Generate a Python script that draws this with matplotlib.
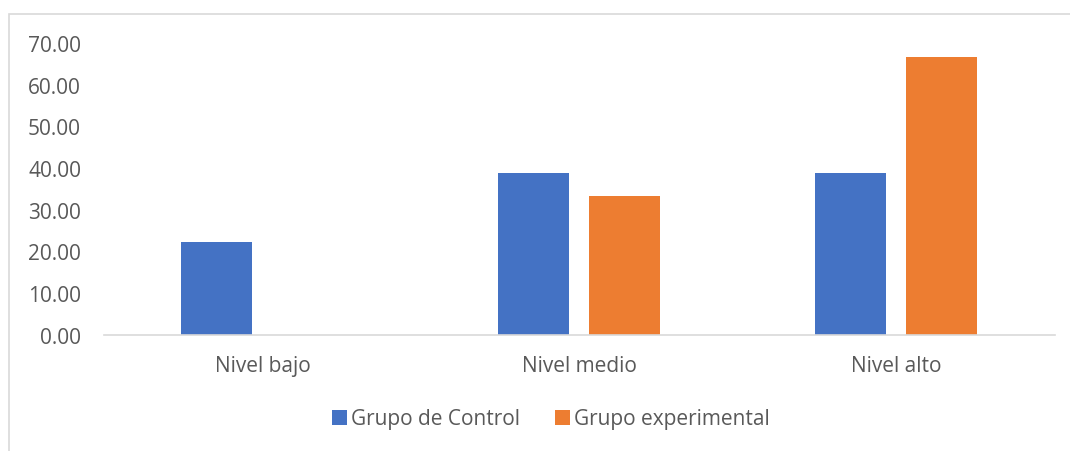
import numpy as np
import matplotlib.pyplot as plt
from matplotlib.patches import Rectangle

categories = ['Nivel bajo', 'Nivel medio', 'Nivel alto']
control = [22.22, 38.89, 38.89]
experimental = [0.00, 33.33, 66.67]

plt.rcParams['font.family'] = ['Open Sans', 'DejaVu Sans']

fig = plt.figure(figsize=(10.7, 4.52), dpi=100)
ax = fig.add_axes([104 / 1070, (452 - 335.5) / 452, 951 / 1070, (335.5 - 44) / 452])

x = np.arange(len(categories))
w = 0.224
ax.bar(x - 0.145, control, w, color='#4472C4', label='Grupo de Control')
ax.bar(x + 0.142, experimental, w, color='#ED7D31', label='Grupo experimental')

ax.set_xlim(-0.5, 2.5)
ax.set_ylim(0, 70)
ax.set_yticks(np.arange(0, 71, 10))
ax.set_yticklabels([f'{v:.2f}' for v in np.arange(0, 71, 10)])
ax.set_xticks(x)
ax.set_xticklabels(categories)
for s in ['top', 'right', 'left']:
    ax.spines[s].set_visible(False)
ax.spines['bottom'].set_color('#d9d9d9')
ax.spines['bottom'].set_linewidth(1.2)
ax.tick_params(axis='both', length=0, labelsize=15, colors='#595959')
ax.tick_params(axis='y', pad=16.5)
ax.tick_params(axis='x', pad=15)

leg = fig.legend(loc='center', bbox_to_anchor=(0.515, (452 - 420) / 452), ncol=2,
                 frameon=False, fontsize=15, handlelength=0.7, handleheight=0.7,
                 handletextpad=0.2, columnspacing=1.7)
for t in leg.get_texts():
    t.set_color('#595959')

fig.patches.append(Rectangle((9 / 1070, -0.1), 1.2, (452 - 15) / 452 + 0.1,
                             transform=fig.transFigure, fill=False,
                             edgecolor='#d9d9d9', linewidth=1.2))

fig.savefig('out.png', dpi=100)
